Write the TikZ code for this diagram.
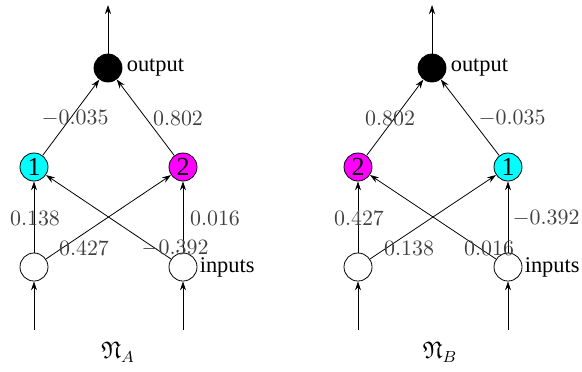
\documentclass[tikz,border=0pt]{standalone}
\usepackage{amssymb}
\usepackage{fontspec}
\setmainfont{Liberation Serif}
\usetikzlibrary{arrows.meta}
\definecolor{wgray}{gray}{0.25}
\definecolor{hcyan}{rgb}{0,1,1}
\definecolor{hmagenta}{rgb}{1,0,1}
\tikzset{
  unit/.style={circle,draw,minimum size=14pt,inner sep=0pt,font=\fontsize{13}{13}\selectfont},
  weight/.style={text=wgray,inner sep=0pt,font=\fontsize{11.4}{13}\selectfont},
}
\begin{document}
\begin{tikzpicture}[x=0.5pt,y=-0.5pt,>={Stealth[length=4.5pt,width=3pt]},font=\fontsize{11.2}{13}\selectfont]
  \useasboundingbox (0,0) rectangle (582,371);
  % network A
  \node[unit] (inA1) at (34,267) {};
  \node[unit] (inA2) at (183,267) {};
  \node[unit,fill=hcyan] (hA1) at (34,167) {1};
  \node[unit,fill=hmagenta] (hA2) at (183,167) {2};
  \node[unit,fill=black] (outA) at (108,68) {};
  \coordinate (topA) at (108,5);
  \coordinate (botA1) at (34,330);
  \coordinate (botA2) at (183,330);
  \draw[->] (outA) -- (topA);
  \draw[->] (botA1) -- (inA1);
  \draw[->] (botA2) -- (inA2);
  \draw[->] (hA1) -- (outA);
  \draw[->] (hA2) -- (outA);
  \draw[->] (inA1) -- (hA1);
  \draw[->] (inA1) -- (hA2);
  \draw[->] (inA2) -- (hA1);
  \draw[->] (inA2) -- (hA2);
  \node[right,inner sep=2pt] (outlabA) at (outA.east) {output};
  \node[right,inner sep=1pt] (inlabA) at (inA2.east) {inputs};
  \node[weight] (wA1) at (75,118) {$-0.035$};
  \node[weight] (wA2) at (178,118) {$0.802$};
  \node[weight] (wA3) at (35,218) {$0.138$};
  \node[weight] (wA4) at (215,218) {$0.016$};
  \node[weight] (wA5) at (84,248) {$0.427$};
  \node[weight] (wA6) at (175,248) {$-0.392$};
  \node[font=\fontsize{12}{13}\selectfont] (nameA) at (118,352) {$\mathfrak{N}_A$};
  % network B
  \node[unit] (inB1) at (358,267) {};
  \node[unit] (inB2) at (508,267) {};
  \node[unit,fill=hmagenta] (hB2) at (358,167) {2};
  \node[unit,fill=hcyan] (hB1) at (508,167) {1};
  \node[unit,fill=black] (outB) at (432,68) {};
  \coordinate (topB) at (432,5);
  \coordinate (botB1) at (358,330);
  \coordinate (botB2) at (508,330);
  \draw[->] (outB) -- (topB);
  \draw[->] (botB1) -- (inB1);
  \draw[->] (botB2) -- (inB2);
  \draw[->] (hB2) -- (outB);
  \draw[->] (hB1) -- (outB);
  \draw[->] (inB1) -- (hB2);
  \draw[->] (inB1) -- (hB1);
  \draw[->] (inB2) -- (hB2);
  \draw[->] (inB2) -- (hB1);
  \node[right,inner sep=2pt] (outlabB) at (outB.east) {output};
  \node[right,inner sep=1pt] (inlabB) at (inB2.east) {inputs};
  \node[weight] (wB1) at (390,118) {$0.802$};
  \node[weight] (wB2) at (512,118) {$-0.035$};
  \node[weight] (wB3) at (359,218) {$0.427$};
  \node[weight] (wB4) at (546,218) {$-0.392$};
  \node[weight] (wB5) at (409,248) {$0.138$};
  \node[weight] (wB6) at (489,248) {$0.016$};
  \node[font=\fontsize{12}{13}\selectfont] (nameB) at (440,352) {$\mathfrak{N}_B$};
\end{tikzpicture}
\end{document}
